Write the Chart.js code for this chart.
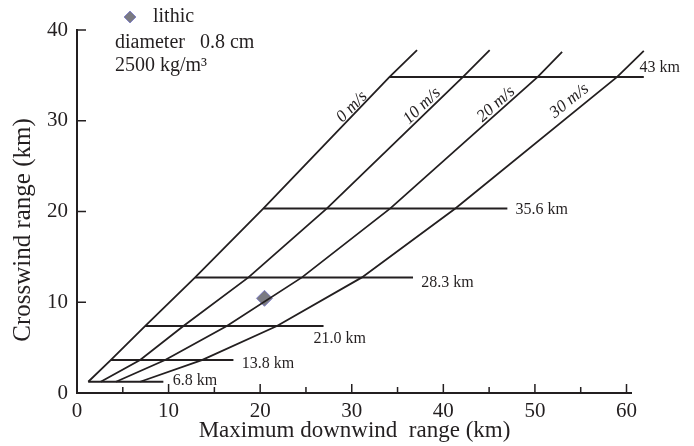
<!DOCTYPE html>
<html>
<head>
<meta charset="utf-8">
<script src="https://cdn.jsdelivr.net/npm/chart.js@4/dist/chart.umd.min.js"></script>
<style>
  html, body { margin: 0; padding: 0; background: #fff; }
  #wrap { width: 694px; height: 446px; }
</style>
</head>
<body>
<div id="wrap"><canvas id="chart"></canvas></div>
<script>
// release heights (km) and where each height line sits on the crosswind axis
var heightLabels = ["6.8 km", "13.8 km", "21.0 km", "28.3 km", "35.6 km", "43 km"];
var heightY = [1.24, 3.63, 7.38, 12.74, 20.34, 34.83];
var heightEndX = [9.43, 17.08, 26.92, 36.69, 46.99, 61.89];
// label anchor for each height line
var heightLabelX = [10.46, 18.0, 25.83, 37.6, 47.87, 61.42];
var heightLabelY = [1.32, 3.19, 6.02, 12.19, 20.15, 35.85];

// wind speed curves: downwind x at each height, plus the end of the line
var windLabels = ["0 m/s", "10 m/s", "20 m/s", "30 m/s"];
var wind0X = [1.23, 3.68, 7.43, 12.9, 20.36, 34.13, 37.13];
var wind10X = [2.59, 6.89, 11.62, 18.72, 27.29, 42.15, 45.06];
var wind20X = [4.26, 9.62, 16.36, 24.56, 34.21, 50.31, 52.97];
var wind30X = [6.89, 13.63, 21.83, 31.11, 41.31, 58.98, 61.89];
var windTipY = [37.78, 37.78, 37.59, 37.7];
var windLabelX = [30.02, 37.67, 45.76, 53.77];
var windLabelY = [31.53, 31.63, 31.83, 32.19];
var windLabelAngle = [-46, -44, -42, -39];

// measured lithic clast
var lithicX = [20.47];
var lithicY = [10.43];

var xTicks = [0, 10, 20, 30, 40, 50, 60];
var yTicks = [0, 10, 20, 30, 40];

var ink = "#231f20";
var serif = "'Liberation Serif', 'DejaVu Serif', serif";

function windPoints(xs, tipY) {
    var pts = [];
    for (var i = 0; i < heightY.length; i++) {
        pts.push({ x: xs[i], y: heightY[i] });
    }
    pts.push({ x: xs[heightY.length], y: tipY });
    return pts;
}

var datasets = [];
[wind0X, wind10X, wind20X, wind30X].forEach(function (xs, i) {
    datasets.push({
        label: windLabels[i],
        data: windPoints(xs, windTipY[i]),
        showLine: true,
        borderColor: ink,
        borderWidth: 1.8,
        pointRadius: 0,
        fill: false,
        clip: false
    });
});
heightLabels.forEach(function (lab, i) {
    datasets.push({
        label: lab,
        data: [{ x: wind0X[i], y: heightY[i] }, { x: heightEndX[i], y: heightY[i] }],
        showLine: true,
        borderColor: ink,
        borderWidth: 2,
        pointRadius: 0,
        fill: false,
        clip: false
    });
});
datasets.push({
    label: "lithic",
    data: lithicX.map(function (v, i) { return { x: v, y: lithicY[i] }; }),
    pointStyle: "rectRot",
    pointRadius: 8,
    backgroundColor: "#7a7a82",
    borderColor: "#8585c8",
    borderWidth: 1
});

var overlay = {
    id: "overlay",
    afterDatasetsDraw: function (chart) {
        var ctx = chart.ctx;
        var x = chart.scales.x, y = chart.scales.y;
        ctx.save();

        // axes with inward ticks
        ctx.strokeStyle = ink;
        ctx.lineWidth = 2;
        ctx.beginPath();
        ctx.moveTo(x.left, y.top - 1);
        ctx.lineTo(x.left, y.bottom);
        ctx.lineTo(x.right, y.bottom);
        ctx.stroke();
        ctx.lineWidth = 1.5;
        ctx.beginPath();
        for (var v = 5; v <= 60; v += 5) {
            var px = x.getPixelForValue(v);
            var len = v % 10 === 0 ? 9 : 6;
            ctx.moveTo(px, y.bottom);
            ctx.lineTo(px, y.bottom - len);
        }
        yTicks.forEach(function (t) {
            if (t === 0) return;
            var py = y.getPixelForValue(t);
            ctx.moveTo(x.left, py);
            ctx.lineTo(x.left + 9, py);
        });
        ctx.stroke();

        // y axis title
        ctx.fillStyle = ink;
        ctx.save();
        ctx.translate(23, 230);
        ctx.rotate(-Math.PI / 2);
        ctx.font = "25px " + serif;
        ctx.textAlign = "center";
        ctx.textBaseline = "middle";
        ctx.fillText("Crosswind range (km)", 0, 0);
        ctx.restore();

        // height labels
        ctx.font = "16px " + serif;
        ctx.textAlign = "left";
        ctx.textBaseline = "middle";
        heightLabels.forEach(function (lab, i) {
            ctx.fillText(lab, x.getPixelForValue(heightLabelX[i]), y.getPixelForValue(heightLabelY[i]));
        });

        // wind speed labels along the lines
        ctx.font = "italic 17px " + serif;
        ctx.textAlign = "center";
        windLabels.forEach(function (lab, i) {
            ctx.save();
            ctx.translate(x.getPixelForValue(windLabelX[i]), y.getPixelForValue(windLabelY[i]));
            ctx.rotate(windLabelAngle[i] * Math.PI / 180);
            ctx.fillText(lab, 0, 0);
            ctx.restore();
        });

        // key
        ctx.fillStyle = "#7a7a82";
        ctx.strokeStyle = "#8585c8";
        ctx.lineWidth = 1;
        ctx.beginPath();
        ctx.moveTo(124, 17);
        ctx.lineTo(130, 11);
        ctx.lineTo(136, 17);
        ctx.lineTo(130, 23);
        ctx.closePath();
        ctx.fill();
        ctx.stroke();
        ctx.fillStyle = ink;
        ctx.font = "20px " + serif;
        ctx.textAlign = "left";
        ctx.fillText("lithic", 153, 17);
        ctx.fillText("diameter   0.8 cm", 115, 43);
        ctx.fillText("2500 kg/m\u00B3", 115, 66);

        ctx.restore();
    }
};

new Chart(document.getElementById("chart").getContext("2d"), {
    type: "scatter",
    data: { datasets: datasets },
    options: {
        responsive: true,
        maintainAspectRatio: false,
        animation: false,
        layout: { padding: { left: 12, top: 30, right: 62, bottom: 1 } },
        plugins: { legend: { display: false }, tooltip: { enabled: false } },
        scales: {
            x: {
                type: "linear",
                min: 0,
                max: 60.6,
                afterBuildTicks: function (scale) {
                    scale.ticks = xTicks.map(function (v) { return { value: v }; });
                },
                afterFit: function (scale) { scale.height = 52; },
                grid: { display: false, drawTicks: false },
                border: { display: false },
                ticks: { color: ink, font: { family: serif, size: 21 }, padding: 6, maxRotation: 0 },
                title: { display: true, text: "Maximum downwind  range (km)", color: ink, font: { family: serif, size: 23 }, padding: 0 }
            },
            y: {
                type: "linear",
                min: 0,
                max: 40,
                afterBuildTicks: function (scale) {
                    scale.ticks = yTicks.map(function (v) { return { value: v }; });
                },
                afterFit: function (scale) { scale.width = 65; },
                grid: { display: false, drawTicks: false },
                border: { display: false },
                ticks: { color: ink, font: { family: serif, size: 21 }, padding: 9 }
            }
        }
    },
    plugins: [overlay]
});
</script>
</body>
</html>
